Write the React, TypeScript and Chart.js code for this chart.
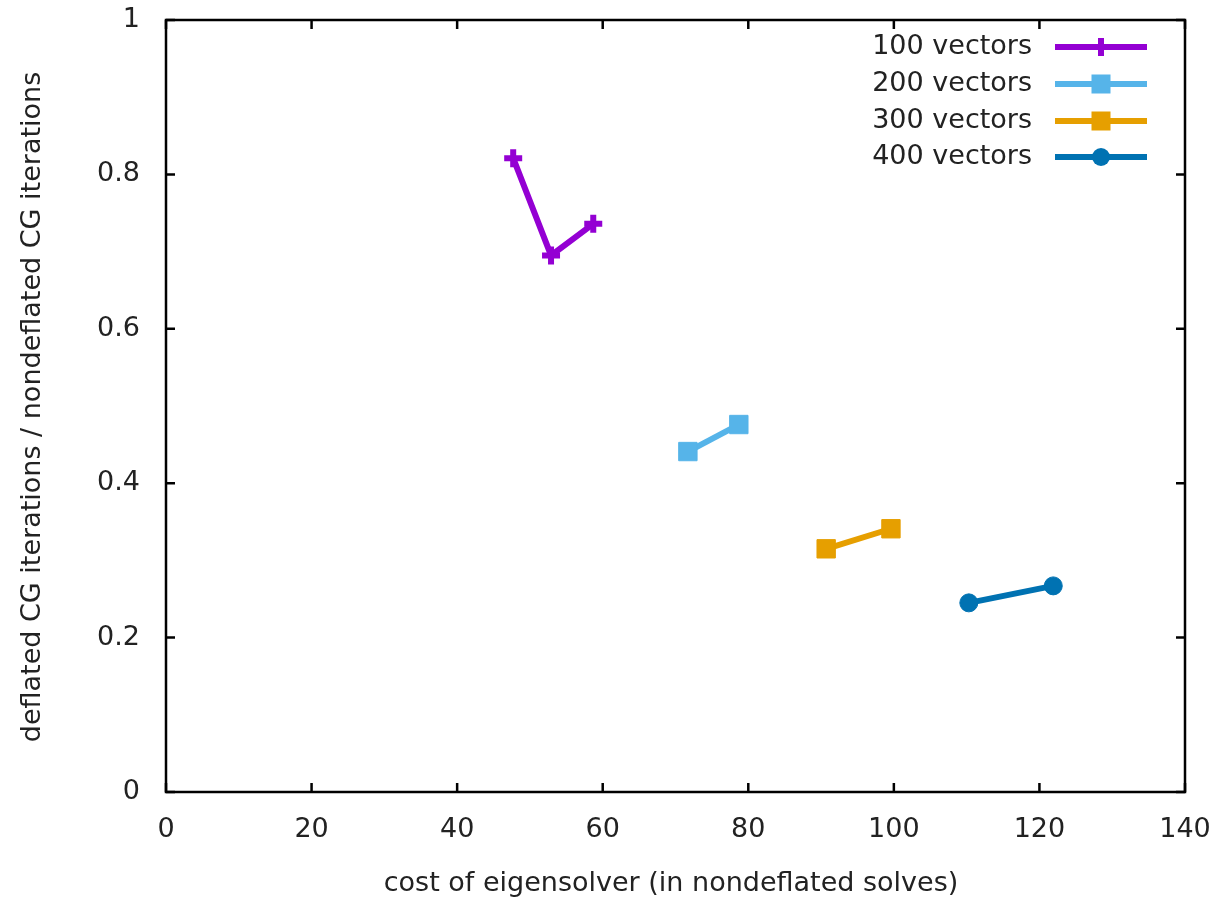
import React, { useEffect, useRef } from "react";
import { Chart, registerables } from "chart.js";

Chart.register(...registerables);

const seriesNames = ["100 vectors", "200 vectors", "300 vectors", "400 vectors"];
const costs100 = [47.7, 52.9, 58.7];
const ratios100 = [0.821, 0.695, 0.736];
const costs200 = [71.7, 78.7];
const ratios200 = [0.441, 0.476];
const costs300 = [90.7, 99.6];
const ratios300 = [0.315, 0.341];
const costs400 = [110.3, 121.9];
const ratios400 = [0.245, 0.267];
const xTicks = [0, 20, 40, 60, 80, 100, 120, 140];
const yTicks = [0, 0.2, 0.4, 0.6, 0.8, 1];
const xTitle = "cost of eigensolver (in nondeflated solves)";
const yTitle = "deflated CG iterations / nondeflated CG iterations";

const colors = ["#9400D3", "#56B4E9", "#E69F00", "#0072B2"];
const styles = ["cross", "rect", "rect", "circle"];
const radii = [9, 13, 13, 9];
const FONT = "DejaVu Sans, sans-serif";
const FS = 27;

function zip(xs: number[], ys: number[]) {
  return xs.map((x, i) => ({ x, y: ys[i] }));
}

function drawMarker(ctx: CanvasRenderingContext2D, style: string, x: number, y: number, color: string) {
  ctx.save();
  ctx.fillStyle = color;
  ctx.strokeStyle = color;
  if (style === "cross") {
    ctx.lineWidth = 6;
    ctx.beginPath();
    ctx.moveTo(x - 9, y);
    ctx.lineTo(x + 9, y);
    ctx.moveTo(x, y - 9);
    ctx.lineTo(x, y + 9);
    ctx.stroke();
  } else if (style === "rect") {
    ctx.fillRect(x - 9.5, y - 9.5, 19, 19);
  } else {
    ctx.beginPath();
    ctx.arc(x, y, 9, 0, Math.PI * 2);
    ctx.fill();
  }
  ctx.restore();
}

const framePlugin = {
  id: "frame",
  beforeDatasetsDraw(chart: any) {
    const { ctx, chartArea: a, scales } = chart;
    ctx.save();
    ctx.strokeStyle = "#000";
    ctx.lineWidth = 2.5;
    ctx.beginPath();
    xTicks.forEach((v) => {
      const px = scales.x.getPixelForValue(v);
      ctx.moveTo(px, a.bottom);
      ctx.lineTo(px, a.bottom - 9);
      ctx.moveTo(px, a.top);
      ctx.lineTo(px, a.top + 9);
    });
    yTicks.forEach((v) => {
      const py = scales.y.getPixelForValue(v);
      ctx.moveTo(a.left, py);
      ctx.lineTo(a.left + 9, py);
      ctx.moveTo(a.right, py);
      ctx.lineTo(a.right - 9, py);
    });
    ctx.stroke();
    ctx.strokeRect(a.left, a.top, a.right - a.left, a.bottom - a.top);
    ctx.restore();
  },
  afterDraw(chart: any) {
    const { ctx } = chart;
    ctx.save();
    ctx.fillStyle = "#222";
    ctx.font = FS + "px " + FONT;
    ctx.textAlign = "center";
    ctx.textBaseline = "middle";
    ctx.fillText(xTitle, 671, 884);
    ctx.save();
    ctx.translate(33, 407);
    ctx.rotate(-Math.PI / 2);
    ctx.fillText(yTitle, 0, 0);
    ctx.restore();
    // legend
    const rows = [47, 84, 121, 157];
    ctx.textAlign = "right";
    seriesNames.forEach((name, i) => {
      const y = rows[i];
      ctx.fillStyle = "#222";
      ctx.fillText(name, 1032, y);
      ctx.strokeStyle = colors[i];
      ctx.lineWidth = 6;
      ctx.beginPath();
      ctx.moveTo(1055, y);
      ctx.lineTo(1147, y);
      ctx.stroke();
      drawMarker(ctx, styles[i], 1101, y, colors[i]);
    });
    ctx.restore();
  },
};

function zeroPad(s: any) {
  s.paddingLeft = 0;
  s.paddingRight = 0;
  s.paddingTop = 0;
  s.paddingBottom = 0;
}

export default function App() {
  const ref = useRef<HTMLCanvasElement | null>(null);
  useEffect(() => {
    document.body.style.margin = "0";
    const all = [
      zip(costs100, ratios100),
      zip(costs200, ratios200),
      zip(costs300, ratios300),
      zip(costs400, ratios400),
    ];
    const chart = new Chart(ref.current as HTMLCanvasElement, {
      type: "scatter",
      data: {
        datasets: all.map((d, i) => ({
          label: seriesNames[i],
          data: d,
          showLine: true,
          borderColor: colors[i],
          backgroundColor: colors[i],
          borderWidth: 6,
          pointStyle: styles[i] as any,
          pointRadius: radii[i],
          pointBorderWidth: i === 0 ? 6 : 1,
          pointBorderColor: colors[i],
          pointBackgroundColor: colors[i],
        })),
      },
      options: {
        animation: false,
        responsive: true,
        maintainAspectRatio: false,
        layout: { padding: { top: 20, right: 28, left: 0, bottom: 0 } },
        plugins: { legend: { display: false }, tooltip: { enabled: false } },
        font: { family: FONT },
        scales: {
          x: {
            type: "linear",
            min: 0,
            max: 140,
            grid: { display: false, drawTicks: false },
            border: { display: false },
            afterBuildTicks: (s: any) => {
              s.ticks = xTicks.map((v) => ({ value: v }));
            },
            afterFit: (s: any) => {
              s.height = 109;
              zeroPad(s);
            },
            ticks: {
              color: "#222",
              padding: 22,
              maxRotation: 0,
              autoSkip: false,
              font: { family: FONT, size: FS },
              callback: (v: any) => String(Math.round(Number(v))),
            },
          },
          y: {
            type: "linear",
            min: 0,
            max: 1,
            grid: { display: false, drawTicks: false },
            border: { display: false },
            afterBuildTicks: (s: any) => {
              s.ticks = yTicks.map((v) => ({ value: v }));
            },
            afterFit: (s: any) => {
              s.width = 166;
              zeroPad(s);
            },
            ticks: {
              color: "#222",
              padding: 26,
              autoSkip: false,
              font: { family: FONT, size: FS },
              callback: (v: any) => String(Math.round(Number(v) * 10) / 10),
            },
          },
        },
      } as any,
      plugins: [framePlugin],
    });
    return () => chart.destroy();
  }, []);
  return (
    <div style={{ position: "relative", width: "1213px", height: "901px" }}>
      <canvas ref={ref} />
    </div>
  );
}
